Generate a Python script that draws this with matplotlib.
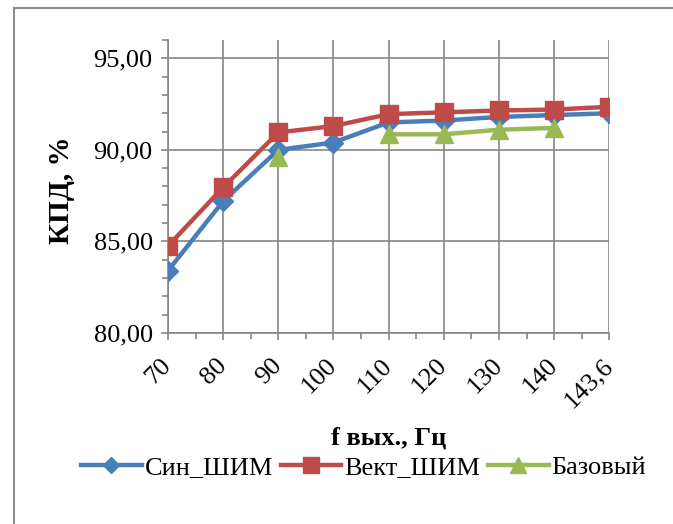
import matplotlib
import numpy as np

matplotlib.use("Agg")
import matplotlib.pyplot as plt
from matplotlib.lines import Line2D
from matplotlib.ticker import MultipleLocator

# data
freq_labels = ["70", "80", "90", "100", "110", "120", "130", "140", "143,6"]
sin_pwm = [83.4, 87.2, 90.0, 90.4, 91.5, 91.6, 91.8, 91.9, 92.0]
vect_pwm = [84.75, 87.95, 90.95, 91.3, 91.95, 92.05, 92.15, 92.2, 92.35]
base = [np.nan, np.nan, 89.6, np.nan, 90.85, 90.85, 91.1, 91.2, np.nan]

series_names = ["Син_ШИМ", "Вект_ШИМ", "Базовый"]
colors = ["#4A7EBB", "#BE4B48", "#98B954"]
markers = ["D", "s", "^"]
marker_sizes = [10, 13, 13]

plt.rcParams["font.family"] = ["Liberation Serif", "DejaVu Serif"]

fig = plt.figure(figsize=(6.73, 5.24), dpi=100)
ax = fig.add_axes([0.2496, 0.3645, 0.6557, 0.5592])

x = np.arange(len(freq_labels))
for vals, name, c, m, ms in zip([sin_pwm, vect_pwm, base], series_names, colors, markers, marker_sizes):
    ax.plot(x, vals, color=c, lw=3.2, marker=m, ms=ms, label=name, zorder=3)

ax.set_xlim(0, len(freq_labels) - 1)
ax.set_ylim(80, 96)
ax.yaxis.set_major_locator(MultipleLocator(5))
ax.yaxis.set_minor_locator(MultipleLocator(1))
ax.set_xticks(x)
ax.set_xticks(x[:-1] + 0.5, minor=True)
ax.set_yticklabels([f"{v:.2f}".replace(".", ",") for v in ax.get_yticks()], fontsize=19)
ax.set_xticklabels(freq_labels, fontsize=19, rotation=45, ha="right", va="center",
                   rotation_mode="anchor")

ax.grid(True, which="major", color="#868686", lw=1.2, zorder=0)
for s in ["top", "right"]:
    ax.spines[s].set_visible(False)
for s in ["left", "bottom"]:
    ax.spines[s].set_color("#868686")
    ax.spines[s].set_linewidth(1.2)
ax.tick_params(which="major", direction="out", length=5, color="#868686", width=1.2, pad=6)
ax.tick_params(which="minor", direction="out", length=4, color="#868686", width=1.2)
ax.tick_params(axis="x", which="major", pad=16)

fig.text(0.092, 0.637, "КПД, %", rotation=90, fontsize=21, fontweight="bold", ha="center", va="center")
fig.text(0.578, 0.164, "f вых., Гц", fontsize=19, fontweight="bold", ha="center", va="center")

handles = [Line2D([0], [0], color=c, lw=3.2, marker=m, ms=ms * 0.85)
           for c, m, ms in zip(colors, markers, marker_sizes)]
fig.legend(handles, series_names, loc="center", bbox_to_anchor=(0.54, 0.108), ncol=3,
           frameon=False, fontsize=19, handlelength=2.3, handletextpad=0.1, columnspacing=0.3)

# chart frame (left and top edges visible)
fig.add_artist(Line2D([14 / 673, 14 / 673], [0, 1 - 8 / 524], color="#8c8c8c", lw=1.5))
fig.add_artist(Line2D([14 / 673, 1], [1 - 8 / 524, 1 - 8 / 524], color="#8c8c8c", lw=1.5))

fig.savefig("out.png", dpi=100)
